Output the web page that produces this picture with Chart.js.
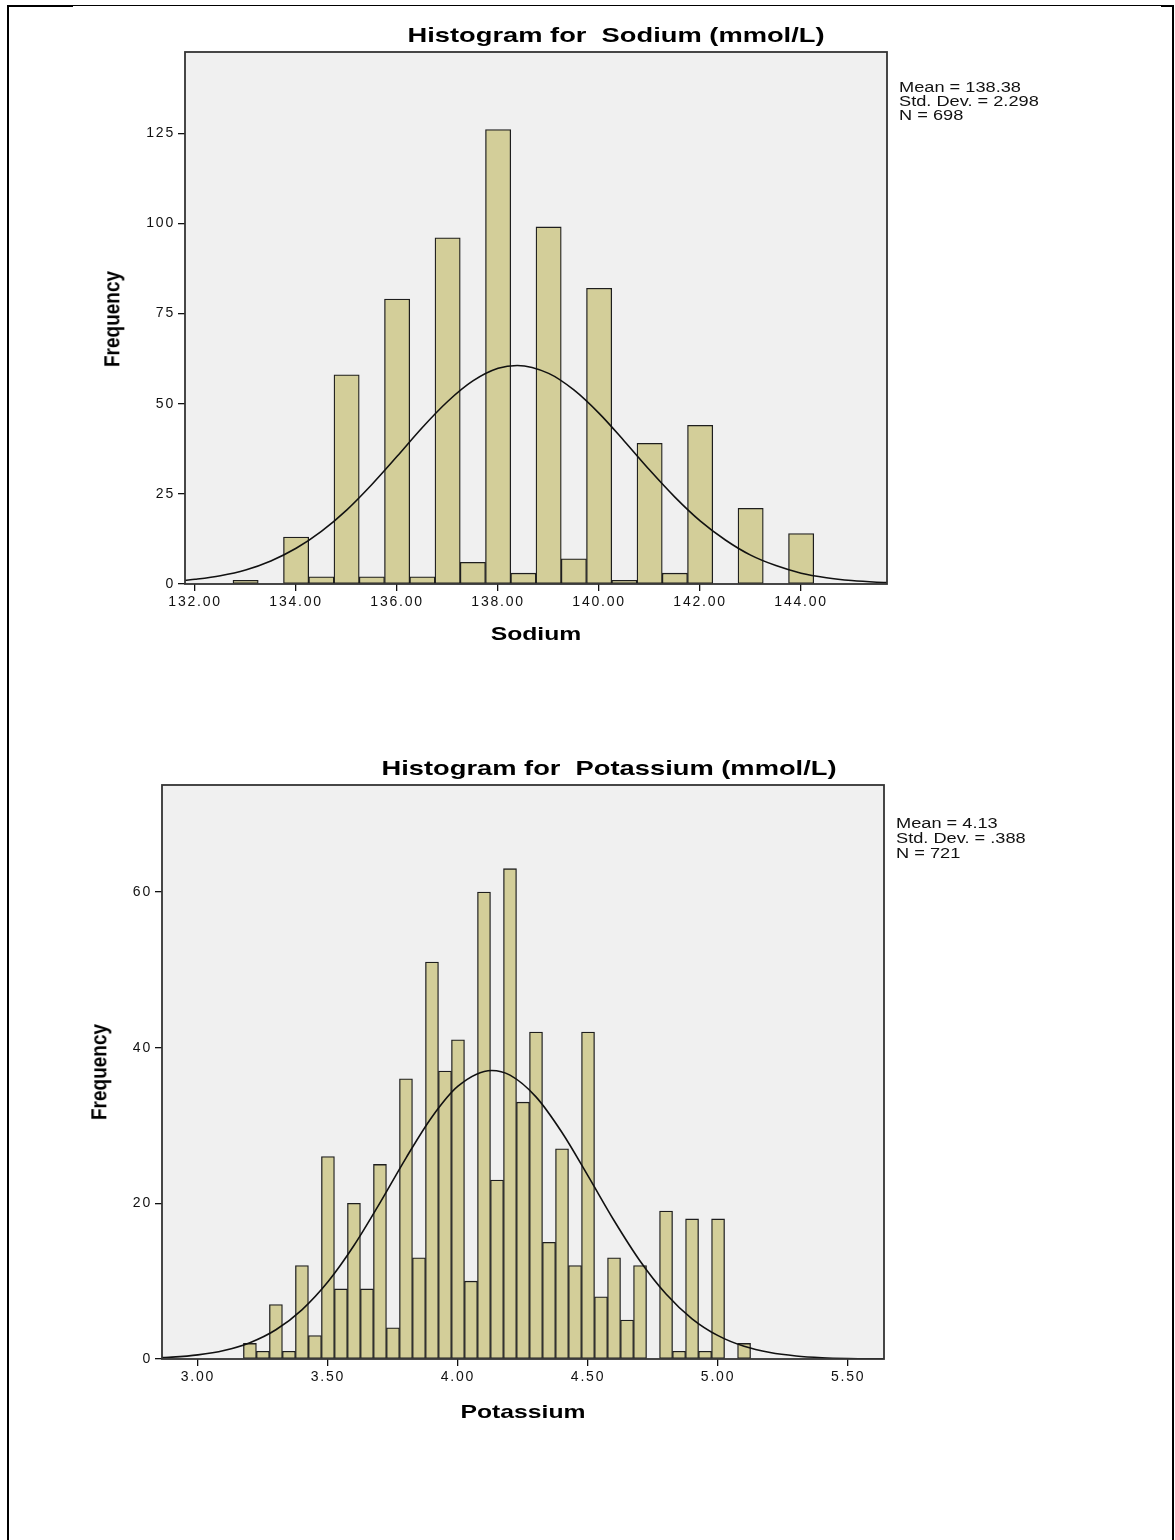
<!DOCTYPE html>
<html>
<head>
<meta charset="utf-8">
<script src="https://cdn.jsdelivr.net/npm/chart.js@4.4.1/dist/chart.umd.min.js"></script>
<style>
body { margin: 0; background: #fff; width: 1175px; height: 1540px; position: relative; overflow: hidden; font-family: 'Liberation Sans', Arial, sans-serif; }
.abs { position: absolute; white-space: pre; color: #000; }
.title { font-weight: bold; font-size: 21px; line-height: 24px; transform: translateX(-50%) scaleX(1.3); }
.axt { font-weight: bold; font-size: 19px; line-height: 22px; transform: translateX(-50%) scaleX(1.3); }
.freq { font-weight: bold; font-size: 19px; line-height: 22px; transform: translate(-50%, -50%) scaleX(1.15) rotate(-90deg); }
.stats { font-size: 14px; line-height: 14px; color: #111; transform-origin: 0 0; transform: scaleX(1.3); }
canvas { position: absolute; left: 0; }
.line { position: absolute; background: #000; }
</style>
</head>
<body>
<div class="line" style="left:7px;top:5px;width:2px;height:1540px"></div>
<div class="line" style="left:7px;top:5px;width:66px;height:2px"></div>
<div class="line" style="left:73px;top:5px;width:1100px;height:1px"></div>
<div class="line" style="left:1161px;top:5px;width:12px;height:2px"></div>
<div class="line" style="left:1172px;top:5px;width:2px;height:1540px"></div>

<canvas id="sodiumChart" width="1175" height="660" style="top:0px"></canvas>
<canvas id="potassiumChart" width="1175" height="700" style="top:740px"></canvas>

<div class="abs title" style="left:616px;top:23px">Histogram for  Sodium (mmol/L)</div>
<div class="abs freq" style="left:112px;top:319px">Frequency</div>
<div class="abs axt" style="left:536px;top:623px">Sodium</div>
<div class="abs stats" style="left:899px;top:80px">Mean = 138.38
Std. Dev. = 2.298
N = 698</div>

<div class="abs title" style="left:609px;top:756px">Histogram for  Potassium (mmol/L)</div>
<div class="abs freq" style="left:99px;top:1072px">Frequency</div>
<div class="abs axt" style="left:523px;top:1401px">Potassium</div>
<div class="abs stats" style="left:896px;top:816px;line-height:15px">Mean = 4.13
Std. Dev. = .388
N = 721</div>

<script>
// Sodium histogram (bin width 0.5)
const sodiumBins = [133, 133.5, 134, 134.5, 135, 135.5, 136, 136.5, 137, 137.5, 138, 138.5, 139, 139.5, 140, 140.5, 141, 141.5, 142, 142.5, 143, 143.5, 144];
const sodiumCounts = [1, 0, 13, 2, 58, 2, 79, 2, 96, 6, 126, 3, 99, 7, 82, 1, 39, 3, 44, 0, 21, 0, 14];
const sodiumCurveX = [131.8, 132, 132.5, 133, 133.5, 134, 134.5, 135, 135.5, 136, 136.5, 137, 137.5, 138, 138.38, 139, 139.5, 140, 140.5, 141, 141.5, 142, 142.5, 143, 143.5, 144, 144.5, 145, 145.5, 145.7];
const sodiumCurveY = [1.0, 1.3, 2.3, 3.9, 6.4, 9.9, 14.6, 20.5, 27.6, 35.4, 43.4, 50.6, 56.3, 59.8, 60.6, 58.4, 53.8, 47.3, 39.6, 31.6, 24.1, 17.5, 12.2, 8.0, 5.1, 3.0, 1.75, 0.96, 0.5, 0.4];
const sodiumXTicks = [132, 134, 136, 138, 140, 142, 144];
const sodiumYTicks = [0, 25, 50, 75, 100, 125];

// Potassium histogram (bin width 0.05)
const potassiumBins = [3.20, 3.25, 3.30, 3.35, 3.40, 3.45, 3.50, 3.55, 3.60, 3.65, 3.70, 3.75, 3.80, 3.85, 3.90, 3.95, 4.00, 4.05, 4.10, 4.15, 4.20, 4.25, 4.30, 4.35, 4.40, 4.45, 4.50, 4.55, 4.60, 4.65, 4.70, 4.75, 4.80, 4.85, 4.90, 4.95, 5.00, 5.05, 5.10];
const potassiumCounts = [2, 1, 7, 1, 12, 3, 26, 9, 20, 9, 25, 4, 36, 13, 51, 37, 41, 10, 60, 23, 63, 33, 42, 15, 27, 12, 42, 8, 13, 5, 12, 0, 19, 1, 18, 1, 18, 0, 2];
const potassiumCurveX = [2.86, 2.9, 3.0, 3.1, 3.2, 3.3, 3.4, 3.5, 3.6, 3.7, 3.8, 3.9, 4.0, 4.13, 4.2, 4.3, 4.4, 4.5, 4.6, 4.7, 4.8, 4.9, 5.0, 5.1, 5.2, 5.3, 5.4, 5.5, 5.64];
const potassiumCurveY = [0.18, 0.24, 0.53, 1.09, 2.10, 3.76, 6.32, 9.92, 14.58, 20.06, 25.82, 31.10, 35.05, 37.07, 36.47, 33.68, 29.10, 23.53, 17.80, 12.60, 8.35, 5.17, 3.00, 1.63, 0.83, 0.39, 0.17, 0.07, 0.02];
const potassiumXTicks = [3.0, 3.5, 4.0, 4.5, 5.0, 5.5];
const potassiumYTicks = [0, 20, 40, 60];

const tickFont = { family: "'Liberation Sans', Arial, sans-serif", size: 14 };

const framePlugin = {
    id: 'frame',
    beforeDraw(chart) {
        chart.ctx.letterSpacing = '1.8px';
    },
    beforeDatasetsDraw(chart) {
        const { ctx, chartArea: a } = chart;
        ctx.save();
        ctx.fillStyle = '#f0f0f0';
        ctx.fillRect(a.left, a.top, a.right - a.left, a.bottom - a.top);
        ctx.restore();
    },
    afterDatasetsDraw(chart) {
        const { ctx, chartArea: a } = chart;
        ctx.save();
        ctx.strokeStyle = '#333';
        ctx.lineWidth = 1.8;
        ctx.strokeRect(a.left, a.top, a.right - a.left, a.bottom - a.top);
        ctx.restore();
    }
};

function makeHistogram(id, o) {
    const bars = o.bins.map((b, i) => ({ x: b, y: o.counts[i] }));
    const curve = o.curveX.map((x, i) => ({ x: x, y: o.curveY[i] }));
    return new Chart(document.getElementById(id), {
        type: 'bar',
        data: {
            datasets: [{
                type: 'line',
                data: curve,
                borderColor: '#111',
                borderWidth: 1.6,
                pointRadius: 0,
                cubicInterpolationMode: 'monotone',
                order: 0
            }, {
                type: 'bar',
                data: bars,
                backgroundColor: '#d3ce99',
                borderColor: '#1e1e1e',
                borderWidth: 1.3,
                borderSkipped: false,
                barPercentage: 1,
                categoryPercentage: 1,
                order: 1
            }]
        },
        options: {
            responsive: false,
            animation: false,
            devicePixelRatio: 1,
            layout: { padding: { left: 0, top: o.top, right: o.right, bottom: 0 } },
            plugins: { legend: { display: false }, tooltip: { enabled: false }, title: { display: false } },
            scales: {
                x: {
                    type: 'linear',
                    min: o.xMin,
                    max: o.xMax,
                    offset: false,
                    afterBuildTicks: s => { s.ticks = o.xTicks.map(v => ({ value: v })); },
                    afterFit: s => { s.height = o.xHeight; },
                    grid: { display: true, offset: false, drawOnChartArea: false, drawTicks: true, tickLength: 7, color: '#111', lineWidth: 1.3 },
                    border: { display: false },
                    ticks: { callback: v => v.toFixed(2), maxRotation: 0, autoSkip: false, padding: 3, color: '#111', font: tickFont }
                },
                y: {
                    type: 'linear',
                    min: 0,
                    max: o.yMax,
                    afterBuildTicks: s => { s.ticks = o.yTicks.map(v => ({ value: v })); },
                    afterFit: s => { s.width = o.yWidth; },
                    grid: { display: true, drawOnChartArea: false, drawTicks: true, tickLength: 7, color: '#111', lineWidth: 1.3 },
                    border: { display: false },
                    ticks: { padding: 3, color: '#111', font: tickFont }
                }
            }
        },
        plugins: [framePlugin]
    });
}

makeHistogram('sodiumChart', {
    bins: sodiumBins, counts: sodiumCounts, curveX: sodiumCurveX, curveY: sodiumCurveY,
    xTicks: sodiumXTicks, yTicks: sodiumYTicks,
    xMin: 131.8, xMax: 145.7, yMax: 147.5,
    top: 52, right: 288, yWidth: 185, xHeight: 76
});

makeHistogram('potassiumChart', {
    bins: potassiumBins, counts: potassiumCounts, curveX: potassiumCurveX, curveY: potassiumCurveY,
    xTicks: potassiumXTicks, yTicks: potassiumYTicks,
    xMin: 2.862, xMax: 5.638, yMax: 73.75,
    top: 45, right: 291, yWidth: 162, xHeight: 81
});
</script>
</body>
</html>
